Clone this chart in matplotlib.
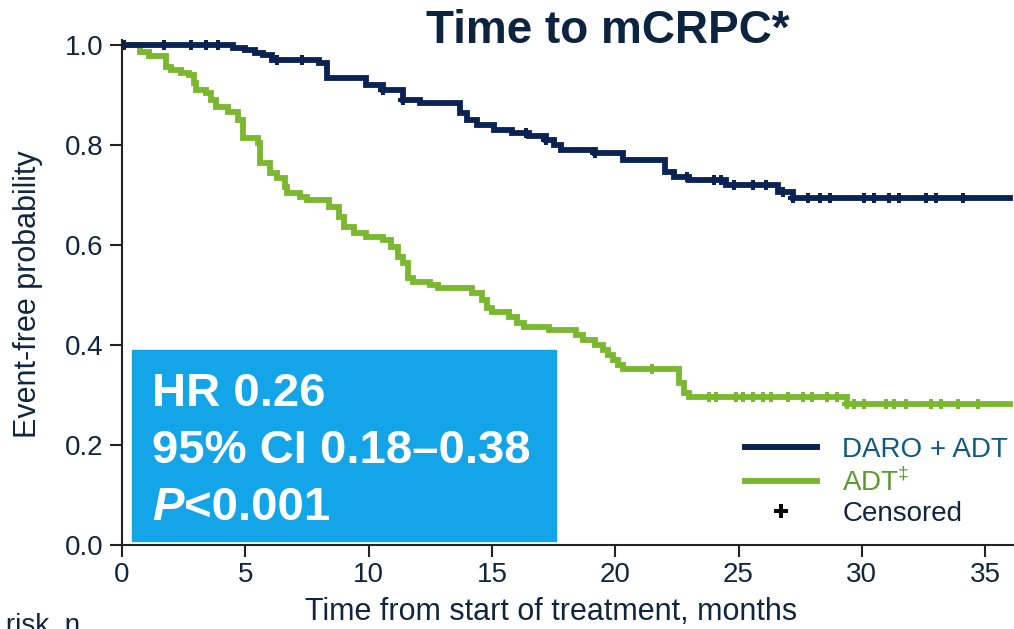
import numpy as np
import matplotlib
matplotlib.use('Agg')
import matplotlib.pyplot as plt
from matplotlib.lines import Line2D
from matplotlib.patches import Rectangle

plt.rcParams['font.family'] = ['Liberation Sans', 'DejaVu Sans']
plt.rcParams['mathtext.fontset'] = 'custom'
plt.rcParams['mathtext.rm'] = 'Liberation Sans'

# ---- data ----
END_MONTH = 36.0

daro_t = [0, 4.5, 5.0, 5.4, 5.7, 6.1, 8.0, 8.3, 9.9, 10.6, 11.4, 12.1, 13.7, 14.0,
          14.4, 15.1, 15.8, 16.5, 17.2, 17.5, 17.8, 19.2, 20.3, 22.0, 22.4, 23.0,
          24.5, 26.6, 27.2]
daro_s = [1.0, 0.995, 0.99, 0.985, 0.98, 0.97, 0.964, 0.934, 0.92, 0.91, 0.89, 0.884,
          0.864, 0.85, 0.84, 0.83, 0.824, 0.818, 0.81, 0.80, 0.79, 0.784, 0.77, 0.746,
          0.737, 0.73, 0.72, 0.706, 0.694]
daro_cens = [0.1, 1.7, 2.8, 3.4, 3.9, 6.3, 7.3, 10.6, 11.4, 16.4, 17.2, 19.2, 22.9,
             24.0, 24.3, 24.8, 25.6, 26.1, 26.8, 27.2, 27.8, 28.3, 28.7, 30.1, 30.5,
             31.1, 31.5, 32.6, 33.0, 34.1]

adt_t = [0, 0.73, 1.1, 1.8, 2.0, 2.4, 2.7, 2.9, 3.0, 3.4, 3.6, 3.8, 4.3, 4.7, 4.9,
         5.5, 5.6, 6.0, 6.3, 6.6, 6.7, 7.2, 7.5, 8.4, 8.8, 9.0, 9.4, 9.9, 10.6, 10.9,
         11.2, 11.4, 11.6, 11.8, 12.5, 12.8, 14.2, 14.6, 14.8, 15.0, 15.7, 16.0, 16.3,
         17.3, 18.4, 18.7, 19.2, 19.5, 19.7, 19.9, 20.1, 20.3, 22.6, 22.8, 23.0, 29.4]
adt_s = [1.0, 0.986, 0.978, 0.956, 0.95, 0.944, 0.94, 0.924, 0.91, 0.904, 0.89, 0.876,
         0.866, 0.85, 0.814, 0.804, 0.764, 0.744, 0.734, 0.716, 0.704, 0.696, 0.69,
         0.676, 0.656, 0.636, 0.624, 0.616, 0.61, 0.596, 0.576, 0.564, 0.534, 0.526,
         0.52, 0.514, 0.504, 0.49, 0.474, 0.466, 0.456, 0.444, 0.436, 0.43, 0.42, 0.41,
         0.40, 0.39, 0.38, 0.37, 0.36, 0.352, 0.324, 0.304, 0.296, 0.282]
adt_cens = [21.5, 23.8, 24.1, 24.9, 25.2, 25.6, 26.0, 26.3, 27.0, 27.6, 28.0, 28.6,
            29.0, 29.4, 29.7, 30.1, 31.0, 31.3, 31.8, 32.8, 33.2, 33.9, 34.7]

x_ticks = [0, 5, 10, 15, 20, 25, 30, 35]
y_ticks = [0.0, 0.2, 0.4, 0.6, 0.8, 1.0]

NAVY = '#0b2255'
GREEN = '#7ab92f'
TXT = '#10263f'


def surv_at(t_arr, s_arr, times):
    idx = np.searchsorted(t_arr, times, side='right') - 1
    return np.asarray(s_arr)[idx]


fig = plt.figure(figsize=(10.14, 6.29), dpi=100)
ax = fig.add_axes([122/1014, 84/629, 892/1014, 505/629])

for t, s, cens, col in [(adt_t, adt_s, adt_cens, GREEN),
                        (daro_t, daro_s, daro_cens, NAVY)]:
    tt = list(t) + [END_MONTH]
    ss = list(s) + [s[-1]]
    ax.plot(tt, ss, drawstyle='steps-post', color=col, lw=4.2, solid_joinstyle='miter')
    ax.plot(cens, surv_at(t, s, cens), ls='none', marker='P', ms=7.5, color=col, mew=0)

ax.set_xlim(0, 892/24.66)
ax.set_ylim(0, 1.01)
ax.set_xticks(x_ticks)
ax.set_yticks(y_ticks)
ax.set_yticklabels([f'{v:.1f}' for v in y_ticks])
for side in ['top', 'right']:
    ax.spines[side].set_visible(False)
for side in ['left', 'bottom']:
    ax.spines[side].set_color('#222222')
    ax.spines[side].set_linewidth(1.5)
ax.tick_params(length=8.6, width=1.5, color='#222222', labelsize=20,
               labelcolor=TXT)
ax.tick_params(axis='y', pad=5)
ax.tick_params(axis='x', pad=4)

# legend
handles = [Line2D([], [], color=NAVY, lw=4.3),
           Line2D([], [], color=GREEN, lw=4.3),
           Line2D([], [], ls='none', marker='P', ms=10, color='black', mew=0)]
labels = ['DARO + ADT', r'ADT$^{\ddag}$', 'Censored']
ax.legend(handles, labels, loc='upper left', bbox_to_anchor=(745/1014, 1 - 437/629),
          bbox_transform=fig.transFigure, frameon=False, fontsize=20,
          borderpad=0, borderaxespad=0, handlelength=2.6, handletextpad=0.9,
          labelspacing=0.16, labelcolor=['#0e5a80', '#5b9a2f', TXT])

# stats box
fig.patches.append(Rectangle((132/1014, 1 - 541/629), 424/1014, 191/629,
                             transform=fig.transFigure, color='#14a5e8', zorder=5))
fig.text(152/1014, 1 - 406/629, 'HR 0.26', color='white', fontsize=34,
         fontweight='bold', va='baseline', zorder=6)
fig.text(152/1014, 1 - 463/629, '95% CI 0.18\u20130.38', color='white', fontsize=34,
         fontweight='bold', va='baseline', zorder=6)
p_txt = fig.text(152/1014, 1 - 520/629, 'P', color='white', fontsize=34,
                 fontweight='bold', fontstyle='italic', va='baseline', zorder=6)
fig.canvas.draw()
bb = p_txt.get_window_extent()
fig.text(bb.x1 / fig.bbox.width, 1 - 520/629, '<0.001', color='white', fontsize=34,
         fontweight='bold', va='baseline', zorder=6)

# titles and axis labels
fig.text(608/1014, 1 - 43/629, 'Time to mCRPC*', color='#0d2440', fontsize=33,
         fontweight='bold', ha='center', va='baseline')
fig.text(28/1014, 1 - 294/629, 'Event-free probability', color=TXT, fontsize=22,
         rotation=90, ha='center', va='center')
fig.text(551/1014, 1 - 620/629, 'Time from start of treatment, months', color=TXT,
         fontsize=22, ha='center', va='baseline')
fig.text(80/1014, 1 - 633/629, 'At risk, n', color=TXT, fontsize=20,
         ha='right', va='baseline')

fig.savefig('out.png', dpi=100)
